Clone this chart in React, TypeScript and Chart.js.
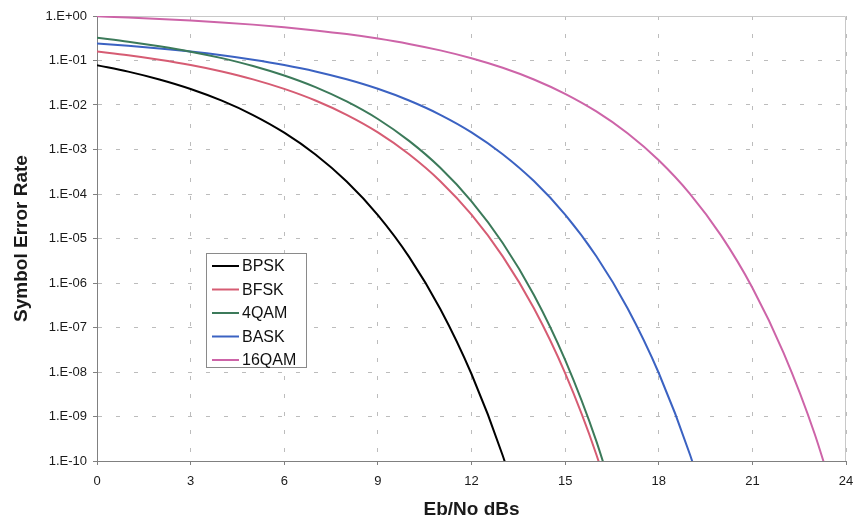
import React, { useEffect, useRef } from "react";
import { Chart, registerables } from "chart.js";

Chart.register(...registerables);

// Eb/No in dB
const snrDb = [0, 1, 2, 3, 4, 5, 6, 7, 8, 9, 10, 11, 12, 13, 14, 15, 16, 17, 18, 19, 20, 21, 22, 23, 24];

const seriesNames = ["BPSK", "BFSK", "4QAM", "BASK", "16QAM"];
const seriesColors = ["#000000", "#d65c73", "#3c7a5a", "#3b62c2", "#cd64a8"];

// Symbol error rate (one value per dB, starting at 0 dB)
const bpsk = [7.86e-2, 5.63e-2, 3.75e-2, 2.29e-2, 1.25e-2, 5.95e-3, 2.39e-3, 7.73e-4, 1.91e-4, 3.36e-5, 3.87e-6, 2.61e-7, 9.01e-9, 1.33e-10, 6.8e-13];
const bfsk = [0.159, 0.131, 0.104, 0.0789, 0.0565, 0.0377, 0.023, 0.0126, 6.0e-3, 2.42e-3, 7.8e-4, 1.94e-4, 3.43e-5, 3.97e-6, 2.7e-7, 9.4e-9, 1.4e-10, 7.0e-13];
const qam4 = [0.325, 0.265, 0.208, 0.158, 0.113, 0.0754, 0.046, 0.0252, 0.012, 4.84e-3, 1.56e-3, 3.88e-4, 6.86e-5, 7.94e-6, 5.4e-7, 1.88e-8, 2.8e-10, 1.4e-12];
const bask = [0.24, 0.214, 0.187, 0.159, 0.131, 0.104, 0.079, 0.0567, 0.0378, 0.0231, 0.0126, 6.02e-3, 2.43e-3, 7.85e-4, 1.95e-4, 3.45e-5, 4.0e-6, 2.72e-7, 9.5e-9, 1.4e-10, 7.0e-13];
const qam16 = [0.982, 0.923, 0.86, 0.791, 0.718, 0.64, 0.559, 0.475, 0.392, 0.311, 0.236, 0.169, 0.1126, 0.0687, 0.0375, 0.01785, 7.17e-3, 2.32e-3, 5.73e-4, 1.01e-4, 1.16e-5, 7.83e-7, 2.7e-8, 4.0e-10, 2.0e-12];

const yTickValues = [1e-10, 1e-9, 1e-8, 1e-7, 1e-6, 1e-5, 1e-4, 1e-3, 1e-2, 1e-1, 1];
const yTickLabels = ["1.E-10", "1.E-09", "1.E-08", "1.E-07", "1.E-06", "1.E-05", "1.E-04", "1.E-03", "1.E-02", "1.E-01", "1.E+00"];
const xMin = 0;
const xMax = 24;
const xStep = 3;

const xTitle = "Eb/No dBs";
const yTitle = "Symbol Error Rate";

const FONT = '"Liberation Sans", Arial, sans-serif';

export default function App() {
  const ref = useRef<HTMLCanvasElement>(null);

  useEffect(() => {
    document.body.style.margin = "0";
    const canvas = ref.current;
    if (!canvas) return;
    const seriesValues = [bpsk, bfsk, qam4, bask, qam16];
    const datasets = seriesNames.map((name, i) => ({
      label: name,
      data: seriesValues[i].map((y, j) => ({ x: snrDb[j], y })),
      borderColor: seriesColors[i],
      backgroundColor: seriesColors[i],
      borderWidth: 2,
      pointRadius: 0,
      fill: false,
      cubicInterpolationMode: "monotone" as const,
    }));

    const framePlugin = {
      id: "frame",
      beforeDatasetsDraw(chart: any) {
        const { ctx, chartArea: a } = chart;
        ctx.save();
        ctx.strokeStyle = "#c8c8c8";
        ctx.lineWidth = 1;
        ctx.setLineDash([]);
        ctx.beginPath();
        ctx.moveTo(a.left, Math.round(a.top) + 0.5);
        ctx.lineTo(Math.round(a.right) - 0.5, Math.round(a.top) + 0.5);
        ctx.lineTo(Math.round(a.right) - 0.5, a.bottom);
        ctx.stroke();
        ctx.restore();
      },
    };

    const legendPlugin = {
      id: "legendBox",
      afterDatasetsDraw(chart: any) {
        const { ctx, chartArea: a } = chart;
        const left = Math.round(a.left + 109);
        const top = Math.round(a.top + 237);
        const w = 100;
        const h = 114;
        ctx.save();
        ctx.fillStyle = "#ffffff";
        ctx.fillRect(left, top, w, h);
        ctx.strokeStyle = "#8a8a8a";
        ctx.lineWidth = 1;
        ctx.setLineDash([]);
        ctx.strokeRect(left + 0.5, top + 0.5, w, h);
        chart.data.datasets.forEach((ds: any, i: number) => {
          const y = top + 13 + i * 23.5;
          ctx.strokeStyle = ds.borderColor;
          ctx.lineWidth = 2;
          ctx.beginPath();
          ctx.moveTo(left + 6, y);
          ctx.lineTo(left + 33, y);
          ctx.stroke();
          ctx.fillStyle = "#111111";
          ctx.font = `16px ${FONT}`;
          ctx.textBaseline = "middle";
          ctx.textAlign = "left";
          ctx.fillText(ds.label, left + 36, y + 1);
        });
        ctx.restore();
      },
    };

    const chart = new Chart(canvas, {
      type: "line",
      data: { datasets },
      options: {
        animation: false,
        responsive: false,
        devicePixelRatio: 1,
        layout: { padding: { top: 16, right: 9, left: 0, bottom: 0 } },
        plugins: {
          legend: { display: false },
          tooltip: { enabled: false },
        },
        scales: {
          x: {
            type: "linear",
            min: xMin,
            max: xMax,
            ticks: {
              stepSize: xStep,
              font: { family: FONT, size: 13 },
              color: "#1a1a1a",
              padding: 9,
              maxRotation: 0,
            },
            grid: {
              color: "#bcbcbc",
              lineWidth: 1,
              drawTicks: true,
              tickLength: 4,
              tickColor: "#808080",
              tickBorderDash: [],
            },
            border: { display: true, color: "#808080", width: 1, dash: [4, 14] },
            title: {
              display: true,
              text: xTitle,
              font: { family: FONT, size: 19, weight: "bold" },
              color: "#1a1a1a",
              padding: { top: 0, bottom: 1 },
            },
            afterFit(scale: any) {
              scale.height = 61;
              scale.paddingLeft = 0;
              scale.paddingRight = 0;
            },
          },
          y: {
            type: "logarithmic",
            min: 1e-10,
            max: 1,
            afterBuildTicks(scale: any) {
              scale.ticks = yTickValues.map((v) => ({ value: v }));
            },
            ticks: {
              font: { family: FONT, size: 13 },
              color: "#1a1a1a",
              padding: 6,
              callback: (value: any) => {
                const idx = yTickValues.findIndex((v) => Math.abs(Math.log10(v) - Math.log10(Number(value))) < 1e-6);
                return idx >= 0 ? yTickLabels[idx] : "";
              },
            },
            grid: {
              color: "#bcbcbc",
              lineWidth: 1,
              drawTicks: true,
              tickLength: 4,
              tickColor: "#808080",
              tickBorderDash: [],
            },
            border: { display: true, color: "#808080", width: 1, dash: [4, 14] },
            title: {
              display: true,
              text: yTitle,
              font: { family: FONT, size: 19, weight: "bold" },
              color: "#1a1a1a",
              padding: { top: 10, bottom: 0 },
            },
            afterFit(scale: any) {
              scale.width = 97;
              scale.paddingTop = 0;
              scale.paddingBottom = 0;
            },
          },
        },
      },
      plugins: [framePlugin, legendPlugin],
    } as any);

    return () => {
      chart.destroy();
    };
  }, []);

  return (
    <div style={{ width: 855, height: 522, background: "#ffffff" }}>
      <canvas ref={ref} width={855} height={522} style={{ display: "block" }} />
    </div>
  );
}
